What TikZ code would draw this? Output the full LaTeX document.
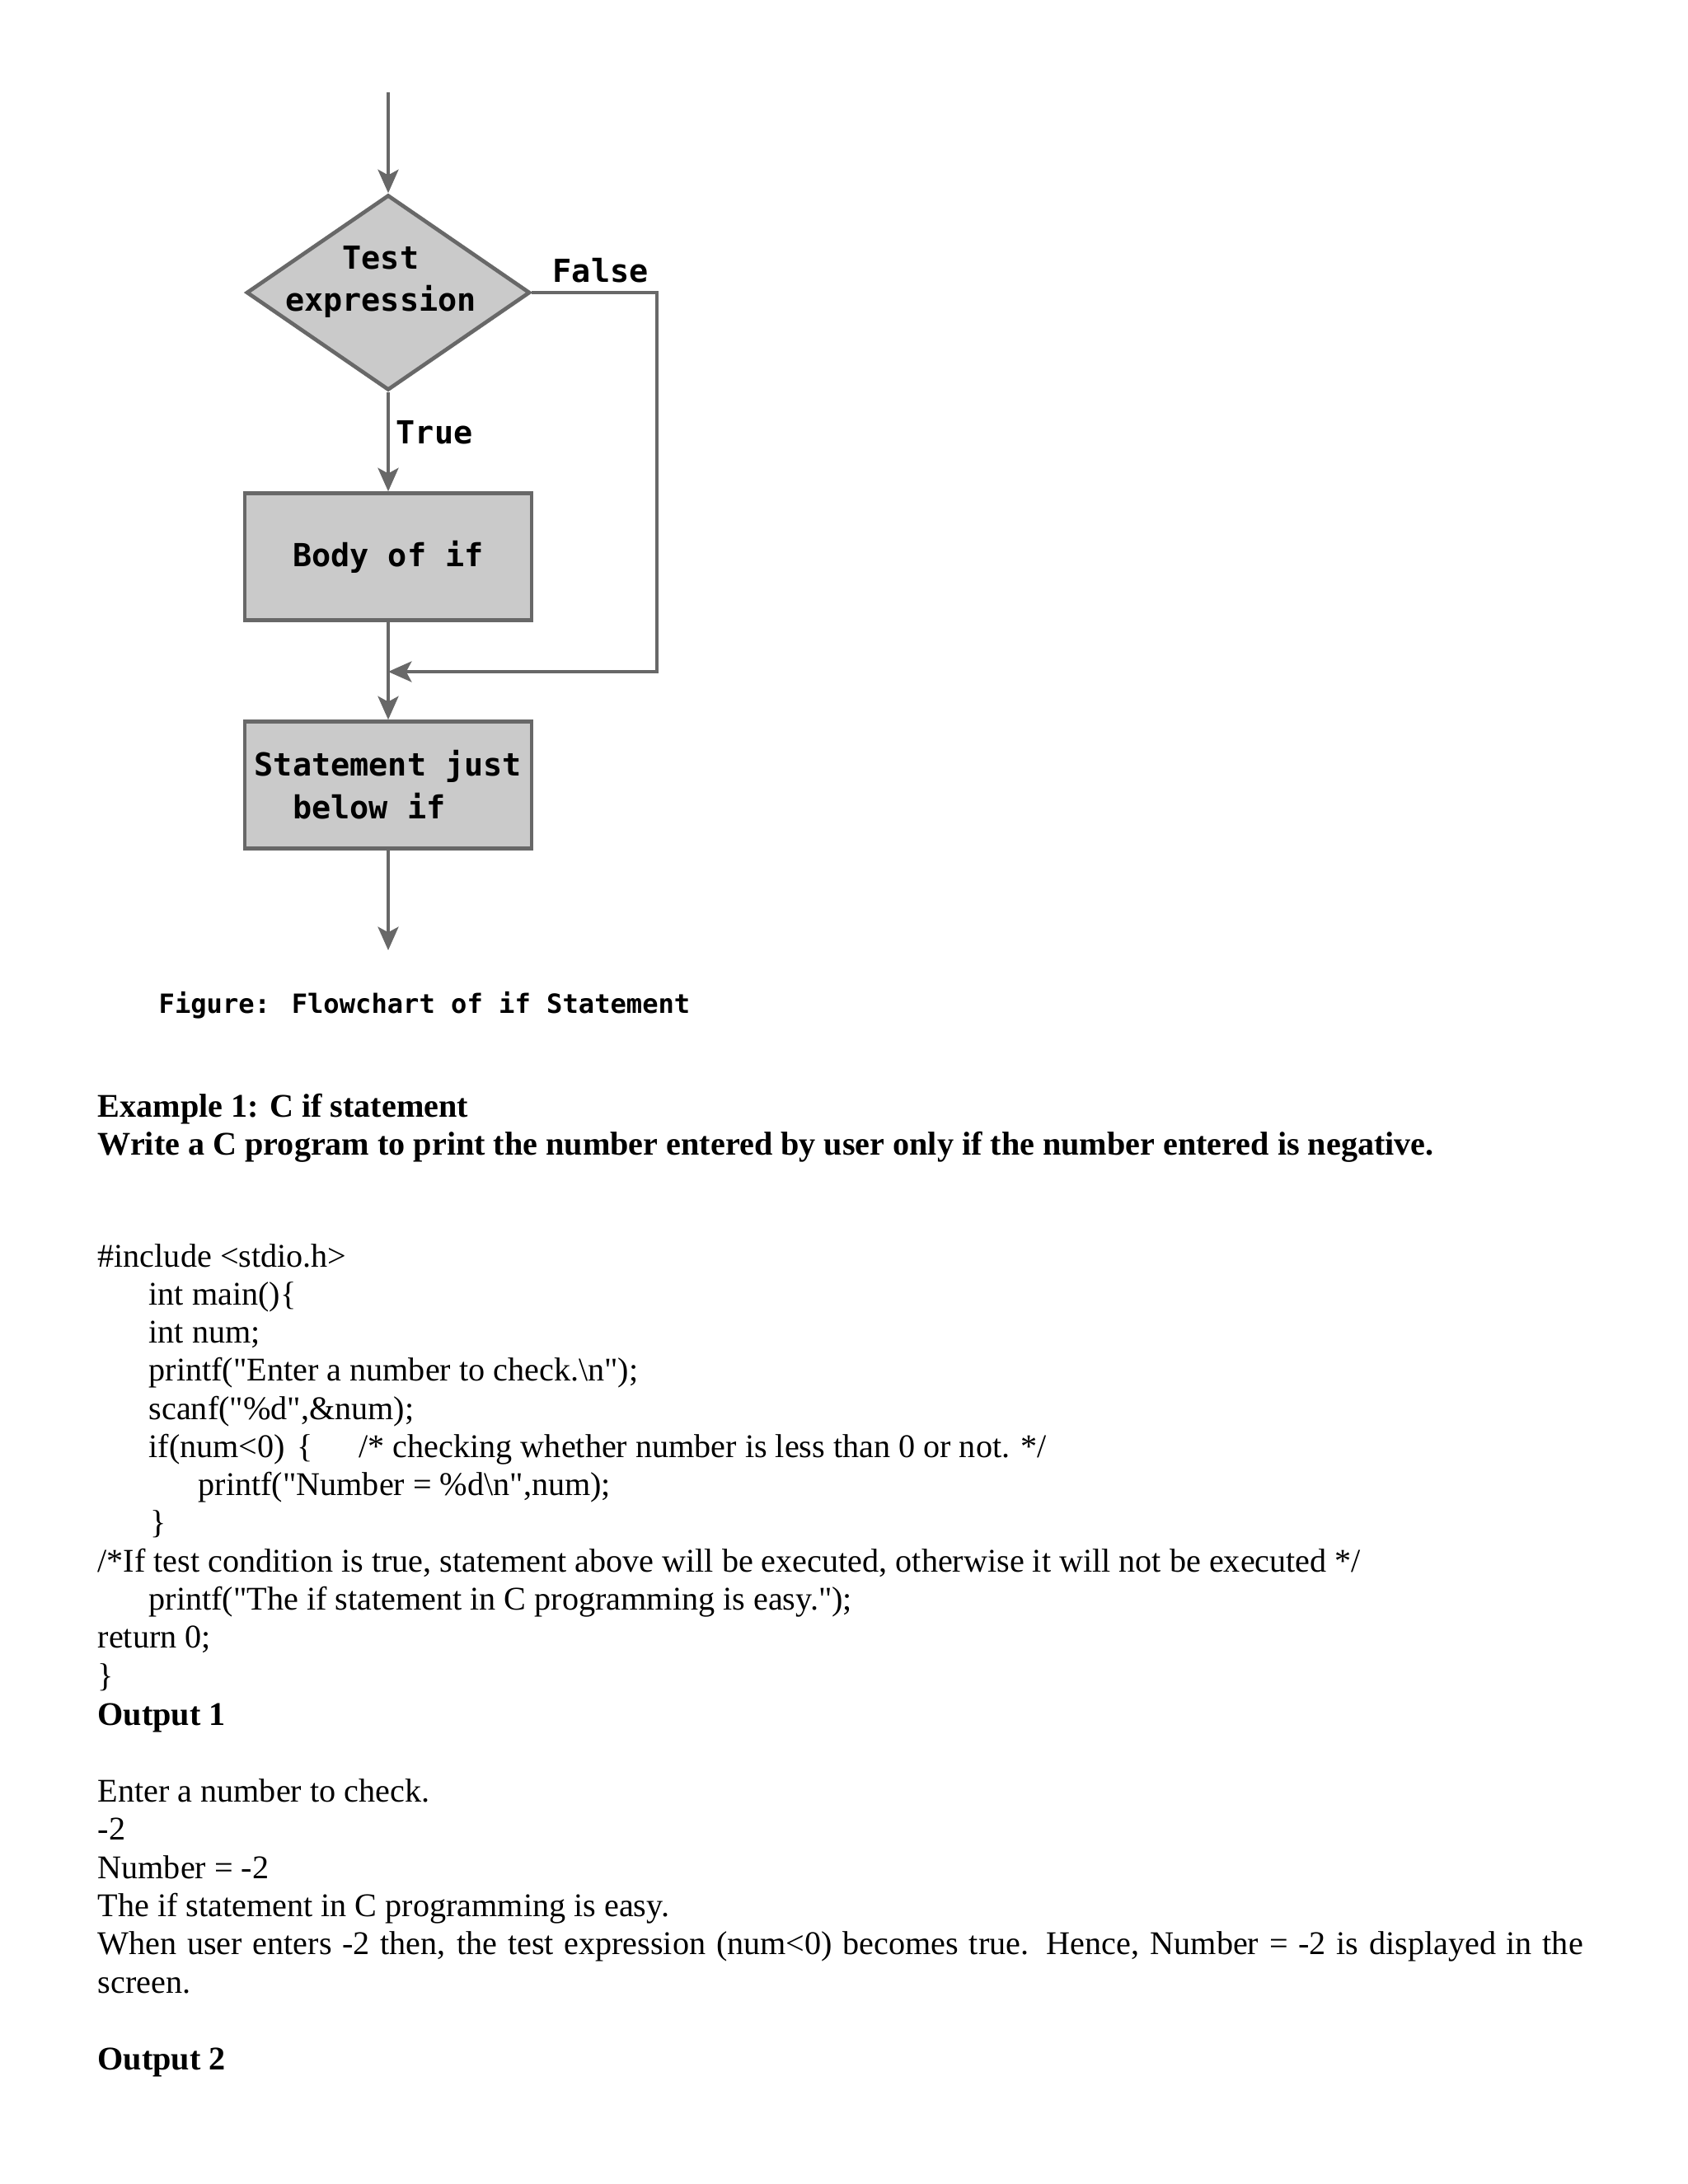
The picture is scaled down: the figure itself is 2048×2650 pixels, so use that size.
\documentclass[tikz,border=0pt]{standalone}
\usepackage{fontspec}
\usetikzlibrary{shapes.geometric,arrows.meta}
\newfontfamily\tnr{Liberation Serif}
\newfontfamily\fcmono{DejaVu Sans Mono}
\definecolor{flow}{RGB}{104,104,104}
\definecolor{boxfill}{RGB}{202,202,202}
\begin{document}
\begin{tikzpicture}[x=0.29883pt,y=-0.29883pt,
  flowline/.style={draw=flow,line width=1.1pt},
  arr/.style={flowline,-{Stealth[length=8.5pt,width=7.5pt,inset=2pt]}},
  monofont/.style={font=\fcmono\bfseries\fontsize{11.5pt}{15.5pt}\selectfont},
  procbox/.style={rectangle,draw=flow,fill=boxfill,line width=1.4pt,minimum width=104pt,minimum height=46pt,inner sep=0pt,monofont},
  decbox/.style={diamond,draw=flow,fill=boxfill,line width=1.4pt,minimum width=102.8pt,minimum height=70.8pt,inner sep=0pt},
  flabel/.style={inner sep=0pt,anchor=base west,monofont},
  bodytxt/.style={inner sep=0pt,anchor=base west,font=\tnr\fontsize{12pt}{13.9pt}\selectfont},
  bodybold/.style={bodytxt,font=\tnr\bfseries\fontsize{12pt}{13.9pt}\selectfont}
]
\fill[white] (0,0) rectangle (2048,2650);
\useasboundingbox (0,0) rectangle (2048,2650);

% flowchart
\node[decbox] (dec) at (471,355) {};
\node[inner sep=0pt,align=center,monofont] (dectxt) at (462,342) {Test\\expression};
\node[procbox] (bodyif) at (471,675.5) {Body of if};
\node[procbox,align=left] (stmt) at (471,952.5) {Statement just\\\phantom{xx}below if};

\coordinate (start) at (471,112);
\coordinate (fr) at (797,355);
\coordinate (fb) at (797,815);
\coordinate (merge) at (471,815);
\coordinate (end) at (471,1153);

\draw[arr] (start) -- (dec.north);
\draw[arr] (dec.south) -- (bodyif.north);
\draw[arr] (bodyif.south) -- (stmt.north);
\draw[arr] (dec.east) -- (fr) -- (fb) -- (merge);
\draw[arr] (stmt.south) -- (end);

\node[flabel] (tlab) at (480,538) {True};
\node[flabel] (flab) at (670,342) {False};
\node[flabel,font=\fcmono\bfseries\fontsize{9.6pt}{12pt}\selectfont] (cap) at (192,1229) {Figure: Flowchart of if Statement};

% text
\node[bodybold] (t1) at (118,1355) {Example 1: C if statement};
\node[bodybold] (t2) at (118,1401) {Write a C program to print the number entered by user only if the number entered is negative.};
\node[bodytxt] (c1) at (118,1537) {\#include <stdio.h>};
\node[bodytxt] (c2) at (180,1583) {int main()\{};
\node[bodytxt] (c3) at (180,1629) {int num;};
\node[bodytxt] (c4) at (180,1675) {printf("Enter a number to check.\textbackslash n");};
\node[bodytxt] (c5) at (180,1722) {scanf("\%d",\&num);};
\node[bodytxt] (c6) at (180,1768) {\makebox[76.2pt][l]{\makebox[53.8pt][l]{if(num<0)}\{}/* checking whether number is less than 0 or not. */};
\node[bodytxt] (c7) at (240,1814) {printf("Number = \%d\textbackslash n",num);};
\node[bodytxt] (c8) at (182,1860) {\}};
\node[bodytxt] (c9) at (118,1907) {/*If test condition is true, statement above will be executed, otherwise it will not be executed */};
\node[bodytxt] (c10) at (180,1953) {printf("The if statement in C programming is easy.");};
\node[bodytxt] (c11) at (118,1999) {return 0;};
\node[bodytxt] (c12) at (118,2046) {\}};
\node[bodybold] (o1) at (118,2093) {Output 1};
\node[bodytxt] (o2) at (118,2186) {Enter a number to check.};
\node[bodytxt] (o3) at (118,2232) {-2};
\node[bodytxt] (o4) at (118,2279) {Number = -2};
\node[bodytxt] (o5) at (118,2325) {The if statement in C programming is easy.};
\node[bodytxt] (o6) at (118,2371) {\makebox[538.5pt][s]{When user enters -2 then, the test expression (num<0) becomes true. Hence, Number = -2 is displayed in the}};
\node[bodytxt] (o7) at (118,2418) {screen.};
\node[bodybold] (o8) at (118,2511) {Output 2};
\end{tikzpicture}
\end{document}
